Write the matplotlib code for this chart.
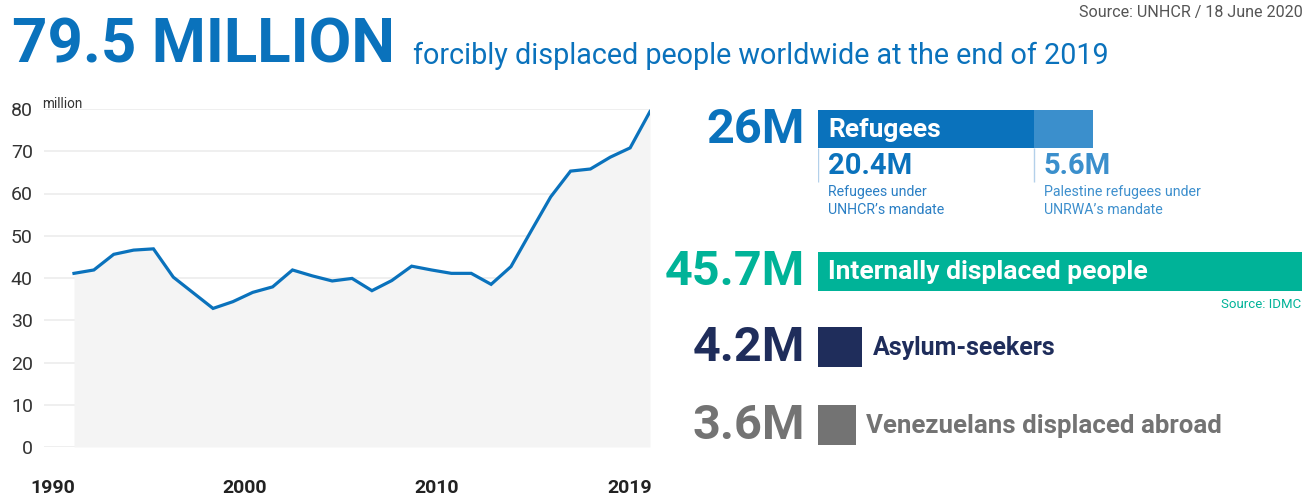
import matplotlib.pyplot as plt

plt.rcParams['font.family'] = ['Roboto', 'DejaVu Sans']

# dados da serie (milhoes de deslocados a forca, fim de cada ano)
anos = list(range(1990, 2020))
deslocados = [41.1, 41.9, 45.6, 46.6, 46.9, 40.2, 36.5, 32.8, 34.4, 36.6,
              37.9, 41.9, 40.5, 39.3, 39.9, 37.0, 39.4, 42.8, 41.9, 41.1,
              41.1, 38.5, 42.7, 51.0, 59.2, 65.3, 65.8, 68.6, 70.8, 79.4]

marcas_x = [1988.94, 1998.61, 2008.28, 2018.0]
rotulos_x = ['1990', '2000', '2010', '2019']
marcas_y = [0, 10, 20, 30, 40, 50, 60, 70, 80]

# dados do painel da direita
refugiados_unhcr = 20.4
refugiados_unrwa = 5.6
refugiados_total = 26
idp = 45.7
asilo = 4.2
venezuelanos = 3.6

azul = '#0a72bc'
azul_claro = '#3b8fcc'
verde = '#00b398'
marinho = '#1f2d5b'
cinza = '#737373'

fig = plt.figure(figsize=(13.16, 4.95), dpi=100)

# titulo
fig.text(12 / 1316, 1 - 63 / 495, '79.5 MILLION', fontsize=44.5, fontweight='bold',
         color=azul, ha='left', va='baseline')
fig.text(413 / 1316, 1 - 64 / 495, 'forcibly displaced people worldwide at the end of 2019',
         fontsize=20.7, color=azul, ha='left', va='baseline')
fig.text(1303 / 1316, 1 - 13 / 495, 'Source: UNHCR / 18 June 2020', fontsize=11.6,
         color='#555555', ha='right', va='center')

# grafico de linha
ax = fig.add_axes([44 / 1316, 48 / 495, 606 / 1316, 338 / 495])
ax.fill_between(anos, deslocados, 0, color='#f4f4f4', lw=0, zorder=1)
ax.plot(anos, deslocados, color=azul, lw=2.3, zorder=3, solid_joinstyle='miter')
for v in marcas_y:
    ax.axhline(v, color='#ececec', lw=1.2, zorder=0)
ax.set_xlim(1988.49, 2019.0)
ax.set_ylim(0, 80)
ax.set_yticks(marcas_y)
ax.set_yticklabels([str(v) for v in marcas_y], fontsize=14, color='#333333')
ax.set_xticks(marcas_x)
ax.set_xticklabels(rotulos_x, fontsize=14, fontweight='bold', color='#222222')
ax.tick_params(axis='y', length=0, pad=8)
ax.tick_params(axis='x', length=0, pad=23)
for s in ax.spines.values():
    s.set_visible(False)
ax.patch.set_alpha(0)
ax.text(-0.003, 80.3, 'million', fontsize=9.8, color='#333333',
        transform=ax.get_yaxis_transform(), ha='left', va='baseline')

# painel da direita: eixo x em milhoes, eixo y em pixels da figura
px = 10.58
ax2 = fig.add_axes([818 / 1316, 0, 498 / 1316, 1])
ax2.set_xlim(0, 498 / px)
ax2.set_ylim(495, 0)
ax2.axis('off')

ax2.barh(129, refugiados_unhcr, height=38, color=azul, lw=0)
ax2.barh(129, refugiados_unrwa, left=refugiados_unhcr, height=38, color=azul_claro, lw=0)
ax2.barh(271.5, idp, height=39, color=verde, lw=0)
ax2.barh(347, asilo, height=40, color=marinho, lw=0)
ax2.barh(425, venezuelanos, height=40, color=cinza, lw=0)

ax2.vlines([0, refugiados_unhcr], 148, 182, color='#b3d0ea', lw=1)

dx = 10 / px
esq = -13 / px
grande = dict(fontsize=35, fontweight='bold', ha='right', va='center', clip_on=False)
ax2.text(esq, 130, f'{refugiados_total}M', color=azul, **grande)
ax2.text(esq, 272, f'{idp}M', color=verde, **grande)
ax2.text(esq, 348, f'{asilo}M', color=marinho, **grande)
ax2.text(esq, 426, f'{venezuelanos}M', color=cinza, **grande)

ax2.text(dx, 130, 'Refugees', color='white', fontsize=19, fontweight='bold',
         ha='left', va='center')
ax2.text(dx, 166, f'{refugiados_unhcr}M', color=azul, fontsize=21, fontweight='bold',
         ha='left', va='center')
ax2.text(refugiados_unhcr + dx, 166, f'{refugiados_unrwa}M', color=azul_claro,
         fontsize=21, fontweight='bold', ha='left', va='center')
ax2.text(dx, 185, 'Refugees under\nUNHCR\u2019s mandate', color='#2a7fc4', fontsize=10.2,
         ha='left', va='top', linespacing=1.35)
ax2.text(refugiados_unhcr + dx, 185, 'Palestine refugees under\nUNRWA\u2019s mandate',
         color='#3d8fcd', fontsize=10.2, ha='left', va='top', linespacing=1.35)

ax2.text(dx, 272, 'Internally displaced people', color='white', fontsize=19,
         fontweight='bold', ha='left', va='center')
ax2.text(idp, 304, 'Source: IDMC', color=verde, fontsize=9.5, ha='right', va='center')

ax2.text(asilo + 10 / px, 348, 'Asylum-seekers', color=marinho, fontsize=18,
         fontweight='bold', ha='left', va='center')
ax2.text(venezuelanos + 10 / px, 426, 'Venezuelans displaced abroad', color=cinza,
         fontsize=18.6, fontweight='bold', ha='left', va='center')

fig.savefig('out.png', dpi=100)
